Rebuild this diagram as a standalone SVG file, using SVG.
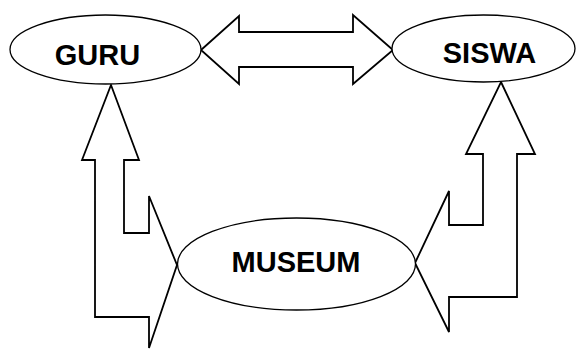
<svg xmlns="http://www.w3.org/2000/svg" width="576" height="351" viewBox="0 0 576 351">
<style>
.node ellipse{fill:#fff;stroke:#000;stroke-width:1.3}
.node text{font-family:"Liberation Sans",Arial,sans-serif;font-weight:bold;font-size:29px;fill:#000;text-anchor:middle}
.conn polygon{fill:none;stroke:#000;stroke-width:1.8;stroke-linejoin:miter}
</style>
<rect width="576" height="351" fill="#fff"/>
<g id="connectors" class="conn">
<polygon points="201,50 239,16 239,32 353,32 353,15 393,50 353,84 353,67 239,67 239,84"/>
<polygon points="111,85 139,160 124,160 124,233 149,233 149,196 177,265 149,348 149,317 95,317 95,160 82,160"/>
<polygon points="501,82 535,154 517,154 517,297 449,297 449,332 415,263 449,191 449,225 483,225 483,154 466,154"/>
</g>
<g id="guru" class="node">
<ellipse cx="105.5" cy="49.5" rx="95.5" ry="34.5"/>
<text x="97.5" y="65">GURU</text>
</g>
<g id="siswa" class="node">
<ellipse cx="483.5" cy="48.5" rx="91.5" ry="33.5"/>
<text x="489.5" y="63">SISWA</text>
</g>
<g id="museum" class="node">
<ellipse cx="296.5" cy="264" rx="119" ry="46"/>
<text x="296" y="272">MUSEUM</text>
</g>
</svg>
